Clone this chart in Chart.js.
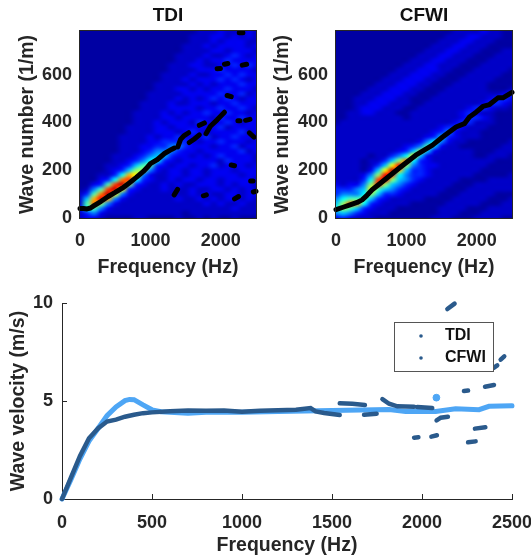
<!DOCTYPE html>
<html>
<head>
<meta charset="utf-8">
<script src="https://cdn.jsdelivr.net/npm/chart.js@4"></script>
<style>
html, body { margin: 0; padding: 0; background: #fff; }
#wrap { position: relative; width: 531px; height: 558px; overflow: hidden; }
canvas { position: absolute; }
</style>
</head>
<body>
<div id="wrap">
    <canvas id="tdiMap" width="265" height="280" style="left:0;top:0"></canvas>
    <canvas id="cfwiMap" width="266" height="280" style="left:265px;top:0"></canvas>
    <canvas id="velocity" width="531" height="273" style="left:0;top:285px"></canvas>
</div>
<script>
// tick labels
const mapFreqTicks = [0, 1000, 2000];
const mapWaveTicks = [0, 200, 400, 600];
const velFreqTicks = [0, 500, 1000, 1500, 2000, 2500];
const velValueTicks = [0, 5, 10];

// heat map cells, read by eye. one hex digit per cell (0 = low, f = high)
// columns are 0, 100 ... 2500 Hz, rows run from 780 down to 0 1/m in steps of 20
const heatFreqs = [0, 100, 200, 300, 400, 500, 600, 700, 800, 900, 1000, 1100, 1200, 1300, 1400, 1500, 1600, 1700, 1800, 1900, 2000, 2100, 2200, 2300, 2400, 2500];
const heatWaves = [780, 760, 740, 720, 700, 680, 660, 640, 620, 600, 580, 560, 540, 520, 500, 480, 460, 440, 420, 400, 380, 360, 340, 320, 300, 280, 260, 240, 220, 200, 180, 160, 140, 120, 100, 80, 60, 40, 20, 0];
// intensity on the jet scale for each digit
const heatLevels = [0.035, 0.07, 0.11, 0.16, 0.25, 0.32, 0.38, 0.45, 0.52, 0.62, 0.7, 0.76, 0.82, 0.88, 0.93, 0.97];

const tdiHeat = [
    "00000000000000000111211121",
    "00000000000000001112212121",
    "00000000000000001112122211",
    "00000000000000011121222212",
    "00000000000000011112212221",
    "00000000000000111121123212",
    "00000000000000111212232222",
    "00000000000001112211223232",
    "00000000000001111222322221",
    "00000000000011112112232322",
    "00000000000011121222323212",
    "00000000000111112121222322",
    "00000000000111221212232221",
    "00000000001111122222322312",
    "00000000001111212123232122",
    "00000000011112112221223222",
    "00000000011112222122322321",
    "00000000111121212232232212",
    "00000000111122122221322322",
    "00000000111212221322232122",
    "00000001111221222222312222",
    "00000001111222123212222312",
    "00000011112122322231223221",
    "00000011112233332122322212",
    "00000011122334432221223122",
    "00000011123444322122222312",
    "00000111234553221212322221",
    "00000112346632122222132221",
    "00001123577321221223122212",
    "00001235884212212212221222",
    "0001136a942112212212222122",
    "000236bc632112122122122221",
    "00237ce8321121211222121221",
    "0147ce93211121112112212121",
    "137be942111111112121122122",
    "15ada421111111211212122121",
    "17b84211111111111121211211",
    "26742111111111111111112111",
    "13421111111111101111111111",
    "12210000110000100101001000"
];
const cfwiHeat = [
    "00000000000000000111121100",
    "00000000000000001112211100",
    "00000000000000011122111000",
    "00000000000000111221110000",
    "00000000000001112211100011",
    "00000000000011122111000111",
    "00000000000111221110001111",
    "00000000001112211100011111",
    "00000000011122211000111110",
    "00000000111222110001111100",
    "00000001112221100011111000",
    "00000011122211000111110000",
    "00000111222110001111110001",
    "00001112221100011111111123",
    "00011122211000111111112332",
    "00011222111001111111123321",
    "00012221110011111112332110",
    "00112211100111111123211000",
    "00111111110111111123321000",
    "01111111111111111233111000",
    "11111111111111123321110000",
    "11111111111111234211100000",
    "11111111111112353211100000",
    "11111111111124642110000001",
    "11111111112347521100000011",
    "11111111123585211111000111",
    "11111011346952111111001110",
    "1111011358b632111111111000",
    "111101359d8432211111110000",
    "11110259ea5332111111100000",
    "1111248dc64332111111000001",
    "111136cd854321111100001111",
    "212248c8543211111000111111",
    "33345975432111110001111111",
    "34446853321111100011111000",
    "46777532111110000111110001",
    "58ba6321111000001111100011",
    "68753211100000011110001111",
    "45432111000000011100011111",
    "23211100000000111000111100"
];

// black ridge picked on each map, null breaks the fragments
const tdiRidgeFreq = [0, 50, 100, 150, 200, 300, 400, 500, 600, 700, 800, 900, 950, 1000, 1100, 1200, 1300, 1340, null,
    1390, 1430, 1480, 1543, null, 1552, 1620, 1695, null, 1695, 1767, null, 1790, 1852, 1948, 2052, null,
    2090, 2148, null, 1948, 1995, null, 2052, 2100, null, 2262, 2314, null, 2305, 2367, null, 2243, 2271, null,
    2352, 2414, null, 2405, 2471, null, 2148, 2195, null, 2424, 2457, null, 2462, 2500, null, 2195, 2252, null,
    1752, 1795, null, 1338, 1386];
const tdiRidgeWave = [40, 40, 38, 42, 52, 70, 90, 107, 125, 147, 170, 195, 210, 228, 245, 270, 287, 293, null,
    298, 330, 345, 357, null, 316, 330, 348, null, 388, 398, null, 353, 384, 411, 443, null,
    513, 508, null, 625, 626, null, 644, 647, null, 776, 776, null, 640, 644, null, 407, 407, null,
    409, 413, null, 356, 339, null, 222, 219, null, 155, 155, null, 109, 112, null, 80, 90, null,
    93, 97, null, 97, 120];
const cfwiRidgeFreq = [0, 100, 200, 300, 371, 440, 514, 657, 895, 1133, 1371, 1514, 1705, 1824, 1895, 1990, 2086, 2181, 2300, 2371, 2500];
const cfwiRidgeWave = [35, 45, 55, 65, 76, 95, 118, 152, 208, 263, 305, 339, 381, 395, 423, 443, 467, 475, 503, 503, 526];

// velocity curves
const tdiVelFreq = [0, 50, 100, 150, 200, 250, 300, 350, 400, 450, 500, 600, 700, 800, 900, 1000, 1100, 1200, 1300, 1381, 1409, 1456, 1543, null,
    1543, 1613, 1683, null, 1678, 1748, null, 1780, 1817, 1863, 1956, null, 1974, 2057, null, 1956, 1980, null,
    2052, 2083, null, 2081, 2104, 2144, null, 2141, 2181, null, 2233, 2256, null, 2256, 2298, null, 2294, 2352, null,
    2350, 2400, null, 2400, 2418, null, 2437, 2457];
const tdiVelValues = [0, 1.1, 2.2, 3.1, 3.6, 3.95, 4.05, 4.2, 4.3, 4.38, 4.42, 4.48, 4.52, 4.5, 4.52, 4.45, 4.5, 4.53, 4.55, 4.64, 4.47, 4.39, 4.29, null,
    4.88, 4.86, 4.8, null, 4.3, 4.35, null, 5.1, 4.86, 4.73, 4.71, null, 4.69, 4.64, null, 3.13, 3.15, null,
    3.18, 3.25, null, 4.01, 4.15, 4.2, null, 9.69, 9.97, null, 5.51, 5.53, null, 2.89, 2.94, null, 3.59, 3.66, null,
    5.73, 5.82, null, 6.7, 6.82, null, 7.11, 7.28];
const cfwiVelFreq = [0, 50, 100, 150, 200, 250, 300, 350, 375, 400, 450, 500, 550, 600, 700, 800, 900, 1000, 1200, 1500, 1817, 1909, 2076, 2187, 2317, 2372, 2500];
const cfwiVelValues = [0, 1.0, 2.05, 2.95, 3.6, 4.25, 4.7, 5.02, 5.08, 5.07, 4.8, 4.55, 4.45, 4.42, 4.38, 4.42, 4.42, 4.42, 4.47, 4.52, 4.56, 4.47, 4.47, 4.6, 4.56, 4.73, 4.76];
const cfwiOutlierFreq = [2080];
const cfwiOutlierValue = [5.17];

const legendLabels = ['TDI', 'CFWI'];

const TEXT = '#262626';
const DARK_BLUE = '#2a5a8c';
const LIGHT_BLUE = '#4ea6f5';
const FONT = '"Liberation Sans", Arial, sans-serif';

Chart.defaults.animation = false;
Chart.defaults.font.family = FONT;
Chart.defaults.font.weight = 'bold';
Chart.defaults.color = TEXT;

function toPoints(xs, ys) {
    return xs.map((x, i) => ({ x: x, y: ys[i] }));
}

// matlab jet
function jet(v) {
    const ramp = t => Math.max(0, Math.min(1, t));
    return [
        Math.round(255 * ramp(Math.min(4 * v - 1.5, 4.5 - 4 * v))),
        Math.round(255 * ramp(Math.min(4 * v - 0.5, 3.5 - 4 * v))),
        Math.round(255 * ramp(Math.min(4 * v + 0.5, 2.5 - 4 * v)))
    ];
}

// paints the heat cells under the ridge and the box round the map
const heatPlugin = {
    id: 'heat',
    beforeDatasetsDraw(chart, args, opts) {
        const rows = opts.rows;
        const off = document.createElement('canvas');
        off.width = heatFreqs.length;
        off.height = heatWaves.length;
        const octx = off.getContext('2d');
        const img = octx.createImageData(off.width, off.height);
        rows.forEach((row, r) => {
            heatFreqs.forEach((f, c) => {
                const rgb = jet(heatLevels[parseInt(row[c] || '1', 16)]);
                const p = (r * off.width + c) * 4;
                img.data[p] = rgb[0];
                img.data[p + 1] = rgb[1];
                img.data[p + 2] = rgb[2];
                img.data[p + 3] = 255;
            });
        });
        octx.putImageData(img, 0, 0);

        const { ctx, chartArea, scales } = chart;
        const x0 = scales.x.getPixelForValue(heatFreqs[0] - 50);
        const x1 = scales.x.getPixelForValue(heatFreqs[heatFreqs.length - 1] + 50);
        const y0 = scales.y.getPixelForValue(heatWaves[0] + 10);
        const y1 = scales.y.getPixelForValue(heatWaves[heatWaves.length - 1] - 10);
        ctx.save();
        ctx.beginPath();
        ctx.rect(chartArea.left, chartArea.top, chartArea.width, chartArea.height);
        ctx.clip();
        ctx.imageSmoothingEnabled = true;
        ctx.imageSmoothingQuality = 'high';
        ctx.drawImage(off, x0, y0, x1 - x0, y1 - y0);
        ctx.restore();
    },
    afterDraw(chart) {
        const { ctx, chartArea } = chart;
        ctx.save();
        ctx.strokeStyle = TEXT;
        ctx.lineWidth = 1;
        ctx.strokeRect(chartArea.left - 0.5, chartArea.top - 0.5, chartArea.width + 1, chartArea.height + 1);
        ctx.restore();
    }
};

// boxed legend inside the plot, both markers are the dark blue in the original
const legendBoxPlugin = {
    id: 'legendBox',
    afterDraw(chart) {
        const ctx = chart.ctx;
        ctx.save();
        ctx.fillStyle = '#fff';
        ctx.strokeStyle = '#555';
        ctx.lineWidth = 1;
        ctx.fillRect(394.5, 37.5, 99, 49);
        ctx.strokeRect(394.5, 37.5, 99, 49);
        ctx.font = 'bold 16px ' + FONT;
        ctx.textBaseline = 'middle';
        legendLabels.forEach((label, i) => {
            const y = 51 + i * 22;
            ctx.fillStyle = DARK_BLUE;
            ctx.beginPath();
            ctx.arc(421, y, 1.8, 0, Math.PI * 2);
            ctx.fill();
            ctx.fillStyle = '#111';
            ctx.fillText(label, 445, y);
        });
        ctx.restore();
    }
};

function axis(tickValues, tickLen, tickPad, extra) {
    const o = {
        type: 'linear',
        afterBuildTicks: s => { s.ticks = tickValues.map(v => ({ value: v })); },
        grid: { drawOnChartArea: false, tickLength: tickLen, tickColor: TEXT, tickWidth: 1 },
        border: { color: TEXT, width: 1 },
        ticks: {
            autoSkip: false,
            maxRotation: 0,
            padding: tickPad,
            font: { size: 18, weight: 'bold' },
            color: TEXT,
            callback: v => String(v)
        }
    };
    return Object.assign(o, extra);
}

function axisTitle(text, pad) {
    return { display: true, text: text, color: TEXT, font: { size: 19.5, weight: 'bold' }, padding: pad };
}

// the tick labels must not push the plot area in
function fixBox(s, w, h) {
    if (w) s.width = w;
    if (h) s.height = h;
    s.paddingLeft = s.paddingRight = s.paddingTop = s.paddingBottom = 0;
}

function makeMap(id, titleText, rows, ridgeX, ridgeY, yTitlePad, rightPad, canvasW) {
    new Chart(document.getElementById(id), {
        type: 'scatter',
        data: {
            datasets: [{
                data: toPoints(ridgeX, ridgeY),
                showLine: true,
                spanGaps: false,
                borderColor: '#000',
                backgroundColor: '#000',
                borderWidth: 5,
                borderCapStyle: 'round',
                borderJoinStyle: 'round',
                pointRadius: 0,
                clip: false
            }]
        },
        options: {
            responsive: false,
            layout: { padding: { right: rightPad } },
            plugins: {
                legend: { display: false },
                tooltip: { enabled: false },
                title: {
                    display: true,
                    fullSize: false,
                    text: titleText,
                    color: '#111',
                    font: { size: 19, weight: 'bold' },
                    padding: { top: 4, bottom: 4.2 }
                },
                heat: { rows: rows }
            },
            scales: {
                x: axis(mapFreqTicks, -3, 15, {
                    min: 0,
                    max: 2500,
                    afterFit: s => fixBox(s, 0, 62),
                    title: axisTitle('Frequency (Hz)', { top: 0, bottom: 1 })
                }),
                y: axis(mapWaveTicks, -3, 11, {
                    min: 0,
                    max: 783,
                    afterFit: s => fixBox(s, canvasW - rightPad - 176, 0),
                    title: axisTitle('Wave number (1/m)', { top: yTitlePad, bottom: 0 })
                })
            }
        },
        plugins: [heatPlugin]
    });
}

makeMap('tdiMap', 'TDI', tdiHeat, tdiRidgeFreq, tdiRidgeWave, 16, 9, 265);
makeMap('cfwiMap', 'CFWI', cfwiHeat, cfwiRidgeFreq, cfwiRidgeWave, 6, 19, 266);

new Chart(document.getElementById('velocity'), {
    type: 'scatter',
    data: {
        datasets: [
            {
                label: 'TDI',
                data: toPoints(tdiVelFreq, tdiVelValues),
                showLine: true,
                spanGaps: false,
                borderColor: DARK_BLUE,
                backgroundColor: DARK_BLUE,
                borderWidth: 4.5,
                borderCapStyle: 'round',
                pointRadius: 0,
                clip: false
            },
            {
                label: 'CFWI',
                data: toPoints(cfwiVelFreq, cfwiVelValues),
                showLine: true,
                borderColor: LIGHT_BLUE,
                backgroundColor: LIGHT_BLUE,
                borderWidth: 5,
                borderCapStyle: 'round',
                pointRadius: 0,
                clip: false
            },
            {
                label: 'CFWI outlier',
                data: toPoints(cfwiOutlierFreq, cfwiOutlierValue),
                borderColor: LIGHT_BLUE,
                backgroundColor: LIGHT_BLUE,
                pointRadius: 3.4,
                clip: false
            }
        ]
    },
    options: {
        responsive: false,
        layout: { padding: { top: 18, right: 19 } },
        plugins: { legend: { display: false }, tooltip: { enabled: false } },
        scales: {
            x: axis(velFreqTicks, -5, 18, {
                min: 0,
                max: 2500,
                afterFit: s => fixBox(s, 0, 59),
                title: axisTitle('Frequency (Hz)', { top: 0, bottom: 1 })
            }),
            y: axis(velValueTicks, -5, 14, {
                min: 0,
                max: 10,
                afterFit: s => fixBox(s, 62, 0),
                title: axisTitle('Wave velocity (m/s)', { top: 7, bottom: 0 })
            })
        }
    },
    plugins: [legendBoxPlugin]
});
</script>
</body>
</html>
